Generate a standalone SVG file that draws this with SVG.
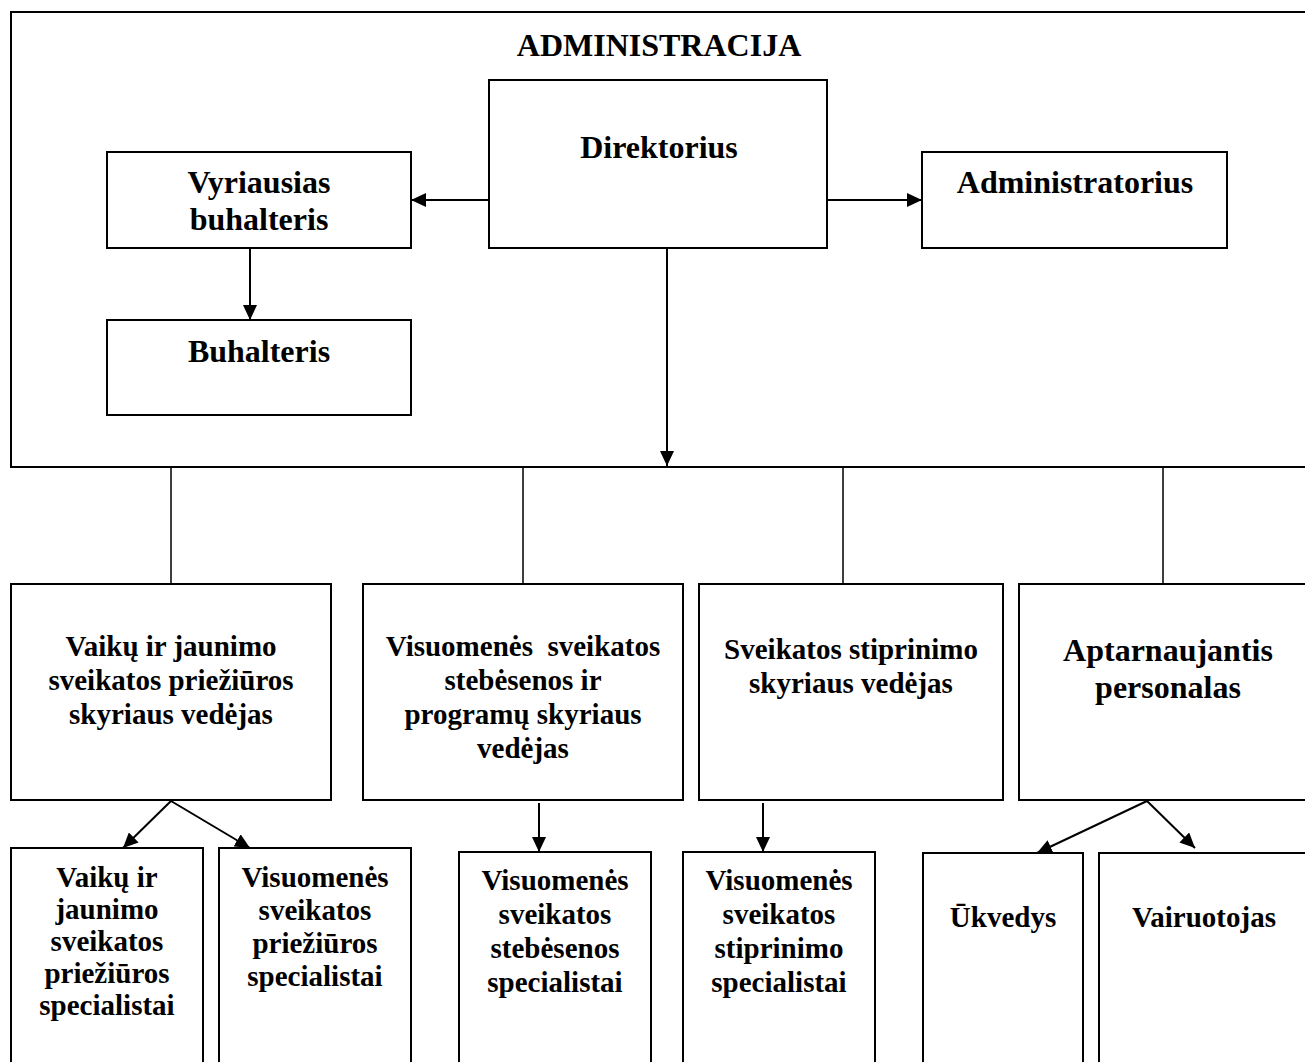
<svg xmlns="http://www.w3.org/2000/svg" width="1305" height="1062" viewBox="0 0 1305 1062">
  <style>
    .box { fill: #fff; stroke: #000; stroke-width: 2; }
    .frame { fill: none; stroke: #000; stroke-width: 2; }
    .lbl { font-family: "Liberation Serif", "Times New Roman", serif; font-weight: bold; fill: #000; text-anchor: middle; }
    .big { font-size: 32px; }
    .mid { font-size: 29px; }
    .arrow { fill: none; stroke: #000; stroke-width: 2; marker-end: url(#head); }
    .link { fill: none; stroke: #000; stroke-width: 1.5; }
  </style>
  <defs>
    <marker id="head" viewBox="0 0 15 14" refX="15" refY="7" markerWidth="15" markerHeight="14" orient="auto" markerUnits="userSpaceOnUse">
      <path d="M0,0 L15,7 L0,14 Z" fill="#000"/>
    </marker>
  </defs>
  <rect width="1305" height="1062" fill="#fff"/>

  <!-- Administration frame -->
  <g id="administracija">
    <rect class="frame" x="11" y="12" width="1310" height="455"/>
    <text class="lbl big" x="659" y="56">ADMINISTRACIJA</text>
  </g>

  <!-- Connectors -->
  <g id="connectors">
    <path class="arrow" d="M489 200 H411"/>
    <path class="arrow" d="M827 200 H922"/>
    <path class="arrow" d="M250 248 V320"/>
    <path class="arrow" d="M667 248 V466"/>
    <path class="link" d="M171 467 V584 M523 467 V584 M843 467 V584 M1163 467 V584"/>
    <path class="arrow" d="M171 801 L123 848"/>
    <path class="arrow" d="M171 801 L250 848"/>
    <path class="arrow" d="M539 803 V852"/>
    <path class="arrow" d="M763 803 V852"/>
    <path class="arrow" d="M1147 801 L1037 853"/>
    <path class="arrow" d="M1147 801 L1195 848"/>
  </g>

  <!-- Top management -->
  <g id="direktorius">
    <rect class="box" x="489" y="80" width="338" height="168"/>
    <text class="lbl big" x="659" y="158">Direktorius</text>
  </g>
  <g id="vyriausias-buhalteris">
    <rect class="box" x="107" y="152" width="304" height="96"/>
    <text class="lbl big" x="259" y="193">Vyriausias</text>
    <text class="lbl big" x="259" y="230">buhalteris</text>
  </g>
  <g id="administratorius">
    <rect class="box" x="922" y="152" width="305" height="96"/>
    <text class="lbl big" x="1075" y="193">Administratorius</text>
  </g>
  <g id="buhalteris">
    <rect class="box" x="107" y="320" width="304" height="95"/>
    <text class="lbl big" x="259" y="362">Buhalteris</text>
  </g>

  <!-- Departments -->
  <g id="vaiku-skyrius">
    <rect class="box" x="11" y="584" width="320" height="216"/>
    <text class="lbl mid" x="171" y="656">Vaikų ir jaunimo</text>
    <text class="lbl mid" x="171" y="690">sveikatos priežiūros</text>
    <text class="lbl mid" x="171" y="724">skyriaus vedėjas</text>
  </g>
  <g id="stebesenos-skyrius">
    <rect class="box" x="363" y="584" width="320" height="216"/>
    <text class="lbl mid" x="523" y="656" xml:space="preserve">Visuomenės  sveikatos</text>
    <text class="lbl mid" x="523" y="690">stebėsenos ir</text>
    <text class="lbl mid" x="523" y="724">programų skyriaus</text>
    <text class="lbl mid" x="523" y="758">vedėjas</text>
  </g>
  <g id="stiprinimo-skyrius">
    <rect class="box" x="699" y="584" width="304" height="216"/>
    <text class="lbl mid" x="851" y="659">Sveikatos stiprinimo</text>
    <text class="lbl mid" x="851" y="693">skyriaus vedėjas</text>
  </g>
  <g id="aptarnaujantis">
    <rect class="box" x="1019" y="584" width="300" height="216"/>
    <text class="lbl big" x="1168" y="661">Aptarnaujantis</text>
    <text class="lbl big" x="1168" y="698">personalas</text>
  </g>

  <!-- Specialists -->
  <g id="vaiku-specialistai">
    <rect class="box" x="11" y="848" width="192" height="240"/>
    <text class="lbl mid" x="107" y="887">Vaikų ir</text>
    <text class="lbl mid" x="107" y="919">jaunimo</text>
    <text class="lbl mid" x="107" y="951">sveikatos</text>
    <text class="lbl mid" x="107" y="983">priežiūros</text>
    <text class="lbl mid" x="107" y="1015">specialistai</text>
  </g>
  <g id="prieziuros-specialistai">
    <rect class="box" x="219" y="848" width="192" height="240"/>
    <text class="lbl mid" x="315" y="887">Visuomenės</text>
    <text class="lbl mid" x="315" y="920">sveikatos</text>
    <text class="lbl mid" x="315" y="953">priežiūros</text>
    <text class="lbl mid" x="315" y="986">specialistai</text>
  </g>
  <g id="stebesenos-specialistai">
    <rect class="box" x="459" y="852" width="192" height="240"/>
    <text class="lbl mid" x="555" y="890">Visuomenės</text>
    <text class="lbl mid" x="555" y="924">sveikatos</text>
    <text class="lbl mid" x="555" y="958">stebėsenos</text>
    <text class="lbl mid" x="555" y="992">specialistai</text>
  </g>
  <g id="stiprinimo-specialistai">
    <rect class="box" x="683" y="852" width="192" height="240"/>
    <text class="lbl mid" x="779" y="890">Visuomenės</text>
    <text class="lbl mid" x="779" y="924">sveikatos</text>
    <text class="lbl mid" x="779" y="958">stiprinimo</text>
    <text class="lbl mid" x="779" y="992">specialistai</text>
  </g>
  <g id="ukvedys">
    <rect class="box" x="923" y="853" width="160" height="240"/>
    <text class="lbl mid" x="1003" y="927">Ūkvedys</text>
  </g>
  <g id="vairuotojas">
    <rect class="box" x="1099" y="853" width="220" height="240"/>
    <text class="lbl mid" x="1204" y="927">Vairuotojas</text>
  </g>
</svg>
